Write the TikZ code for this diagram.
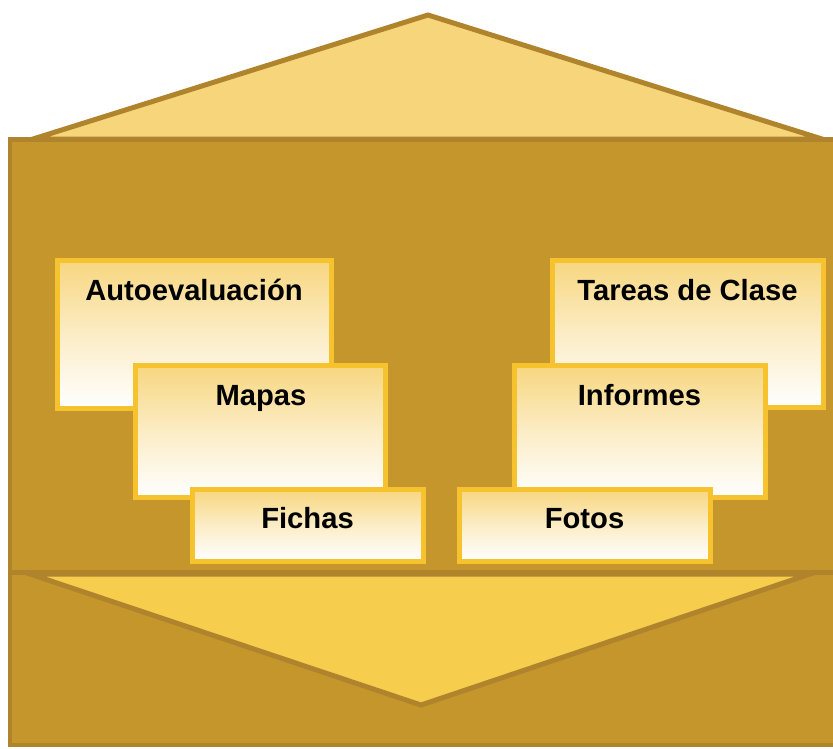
\documentclass[tikz,border=0pt]{standalone}
\usepackage{fontspec}
\setmainfont{Liberation Sans}
\definecolor{framefill}{HTML}{C4962B}
\definecolor{framedraw}{HTML}{B0842C}
\definecolor{toptri}{HTML}{F7D67B}
\definecolor{bottri}{HTML}{F6CD4C}
\definecolor{cardline}{HTML}{F6C22E}
\definecolor{cardtop}{HTML}{F7D67F}
\begin{document}
\begin{tikzpicture}[x=1pt,y=-1pt,
  cardbox/.style={draw=cardline,line width=5pt,top color=cardtop,bottom color=white,middle color=cardtop!45!white},
  cardlabel/.style={anchor=base,font=\fontsize{29.2}{34}\selectfont\bfseries,inner sep=0pt},
  framebox/.style={fill=framefill,draw=framedraw,line width=4pt},
  tri/.style={draw=framedraw,line width=5pt,line join=miter}]
\useasboundingbox (0,0) rectangle (833,748);
\clip (0,0) rectangle (833,748);
% main frame
\draw[framebox] (10,139) rectangle (850,745);
% top triangle
\draw[tri,fill=toptri] (33,139) -- (428,15) -- (822,139) -- cycle;
\draw[framedraw,line width=5pt] (10,139) -- (850,139);
% bottom triangle
\draw[tri,fill=bottri] (30,574) -- (421,705) -- (810,574) -- cycle;
\draw[framedraw,line width=5pt] (10,572) -- (850,572);
% left cards
\draw[cardbox] (57,260) rectangle (331,408);
\node[cardlabel] (auto) at (194,300) {Autoevaluación};
\draw[cardbox] (135,365) rectangle (385,497);
\node[cardlabel] (mapas) at (261,405) {Mapas};
\draw[cardbox] (192,489) rectangle (423,561);
\node[cardlabel] (fichas) at (307.5,528) {Fichas};
% right cards
\draw[cardbox] (552,260) rectangle (823,407);
\node[cardlabel] (tareas) at (687.5,300) {Tareas de Clase};
\draw[cardbox] (514,365) rectangle (765,497);
\node[cardlabel] (informes) at (639.5,405) {Informes};
\draw[cardbox] (459,489) rectangle (710,561);
\node[cardlabel] (fotos) at (584.5,528) {Fotos};
\end{tikzpicture}
\end{document}
